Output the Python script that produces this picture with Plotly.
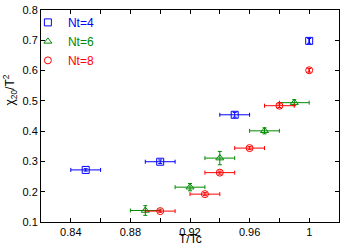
import plotly.graph_objects as go

# Data
nt4_x = [0.85, 0.90, 0.95, 1.00]
nt4_y = [0.272, 0.299, 0.454, 0.698]
nt4_xerr = [0.01, 0.01, 0.01, 0.0]
nt4_yerr = [0.004, 0.006, 0.008, 0.008]

nt6_x = [0.89, 0.92, 0.94, 0.97, 0.99]
nt6_y = [0.138, 0.215, 0.311, 0.401, 0.494]
nt6_xerr = [0.01, 0.01, 0.01, 0.01, 0.01]
nt6_yerr = [0.016, 0.012, 0.022, 0.01, 0.01]

nt8_x = [0.90, 0.93, 0.94, 0.96, 0.98, 1.00]
nt8_y = [0.136, 0.192, 0.263, 0.344, 0.484, 0.601]
nt8_xerr = [0.01, 0.01, 0.01, 0.01, 0.01, 0.0]
nt8_yerr = [0.004, 0.005, 0.005, 0.005, 0.006, 0.006]

x_tickvals = [0.84, 0.88, 0.92, 0.96, 1.00]
x_ticktext = ["0.84", "0.88", "0.92", "0.96", "1"]
y_tickvals = [0.1, 0.2, 0.3, 0.4, 0.5, 0.6, 0.7, 0.8]
y_ticktext = ["0.1", "0.2", "0.3", "0.4", "0.5", "0.6", "0.7", "0.8"]

BLUE = "#0000ff"
GREEN = "#008a00"
RED = "#ff0000"

series = [
    ("Nt=4", nt4_x, nt4_y, nt4_xerr, nt4_yerr, BLUE, "square-open"),
    ("Nt=6", nt6_x, nt6_y, nt6_xerr, nt6_yerr, GREEN, "triangle-up-open"),
    ("Nt=8", nt8_x, nt8_y, nt8_xerr, nt8_yerr, RED, "circle-open"),
]

fig = go.Figure()
for name, xs, ys, xe, ye, col, sym in series:
    fig.add_trace(go.Scatter(
        x=xs, y=ys, mode="markers",
        name=f"<span style='color:{col}'>{name}</span>",
        marker=dict(symbol=sym, size=7, color=col, line=dict(width=1, color=col)),
        error_x=dict(type="data", array=xe, color=col, thickness=1, width=2),
        error_y=dict(type="data", array=ye, color=col, thickness=1, width=2),
    ))

axis_common = dict(
    showline=True, linecolor="black", linewidth=1, mirror="allticks",
    ticks="inside", ticklen=4, tickcolor="black", tickwidth=1,
    showgrid=False, zeroline=False, automargin=False,
    tickfont=dict(family="Liberation Sans, Arial", size=11, color="black"),
)

fig.update_layout(
    template="none",
    width=350, height=245,
    margin=dict(l=41, r=11, t=8, b=23),
    paper_bgcolor="white", plot_bgcolor="white",
    font=dict(family="Liberation Sans, Arial", size=12, color="black"),
    showlegend=True,
    legend=dict(x=-0.044, y=1.01, xanchor="left", yanchor="top",
                bgcolor="rgba(0,0,0,0)", borderwidth=0,
                font=dict(size=12), itemwidth=30),
    xaxis=dict(range=[0.82, 1.02], tickmode="array",
               tickvals=x_tickvals, ticktext=x_ticktext,
               minor=dict(tickmode="linear", tick0=0.84, dtick=0.02,
                          ticks="inside", ticklen=4, tickcolor="black", showgrid=False),
               **axis_common),
    yaxis=dict(range=[0.1, 0.8], tickmode="array",
               tickvals=y_tickvals, ticktext=y_ticktext, **axis_common),
    annotations=[
        dict(text="T/Tc", xref="paper", yref="paper", x=0.5, y=0,
             yshift=-8, xanchor="center", yanchor="top", showarrow=False,
             font=dict(size=12)),
        dict(text="χ<sub>20</sub>/T<sup>2</sup>", xref="paper", yref="paper",
             x=0, y=0.62, xshift=-31, xanchor="center", yanchor="middle",
             textangle=-90, showarrow=False, font=dict(size=12)),
    ],
)

fig.write_html("out.html", config={"displayModeBar": False},
               post_script="document.body.style.margin='0';document.body.style.overflow='hidden';")
